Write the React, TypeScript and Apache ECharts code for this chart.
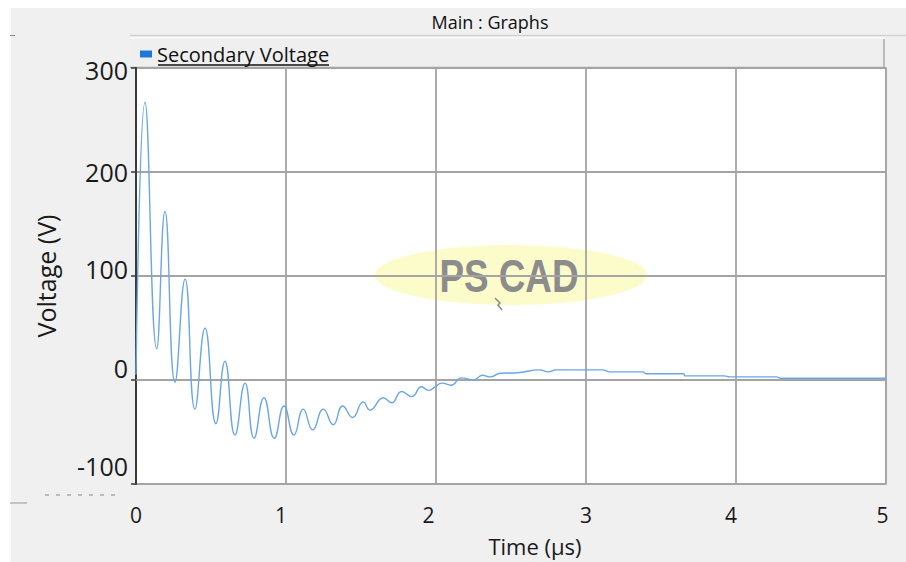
import React, { useEffect, useRef } from "react";
import * as echarts from "echarts";

// ---- data ----
const TIME_US = [
  0, 0.06, 0.138, 0.193, 0.26, 0.327, 0.393, 0.46, 0.533, 0.593, 0.66, 0.727, 0.787,
  0.853, 0.922, 0.987, 1.053, 1.115, 1.178, 1.249, 1.315, 1.378, 1.444, 1.515, 1.56,
  1.649, 1.704, 1.771, 1.838, 1.904, 1.949, 1.99, 2.04, 2.1, 2.17, 2.25, 2.31, 2.36,
  2.43, 2.54, 2.69, 2.75, 2.8, 3.11, 3.16, 3.38, 3.4, 3.65, 3.66, 3.92, 3.96, 4.27,
  4.3, 5.0,
];
const SECONDARY_VOLTAGE = [
  5, 267, 30, 162, -2, 97, -28, 50, -42, 18, -53, -3, -56, -17, -56, -25, -53, -28,
  -48, -28, -43, -25, -36, -21, -29, -17, -22, -11, -16, -6.5, -10, -7, -3, -5, 2, 0,
  4.5, 3, 6.5, 7, 9.7, 7.8, 9.7, 9.7, 7.8, 7.8, 6, 6, 4, 4, 3, 3, 1.7, 1.7,
];
const X_TICKS = [0, 1, 2, 3, 4, 5];
const Y_TICKS = [-100, 0, 100, 200, 300];
const SERIES_NAME = "Secondary Voltage";
const X_TITLE = "Time (µs)";
const Y_TITLE = "Voltage (V)";
const PANEL_TITLE = "Main : Graphs";
const WATERMARK = "PS CAD";

// ---- styles (label nudges in px, as in the reference screenshot) ----
const Y_LABEL_SHIFT = [-18.5, -12.5, -7.5, 0, 1.5];
const X_LABEL_SHIFT = [0, -5, -7.5, 0, -5, -3.5];
const FONT = "'Open Sans', 'Noto Sans', sans-serif";

export default function App() {
  const ref = useRef<HTMLDivElement>(null);

  useEffect(() => {
    if (!ref.current) return;
    const chart = echarts.init(ref.current, undefined, { renderer: "svg" });

    const yRich: Record<string, any> = {};
    Y_TICKS.forEach((_, i) => {
      const s = Y_LABEL_SHIFT[i];
      yRich["y" + i] = {
        fontSize: 25,
        fontFamily: FONT,
        color: "#1a1a1a",
        padding: s < 0 ? [0, 0, -2 * s, 0] : [2 * s, 0, 0, 0],
      };
    });
    const xRich: Record<string, any> = {};
    X_TICKS.forEach((_, i) => {
      const s = X_LABEL_SHIFT[i];
      xRich["x" + i] = {
        fontSize: 21,
        fontFamily: FONT,
        color: "#1a1a1a",
        padding: s < 0 ? [0, -2 * s, 0, 0] : [0, 0, 0, 2 * s],
      };
    });

    chart.setOption({
      animation: false,
      backgroundColor: "#f0f0f0",
      textStyle: { fontFamily: FONT },
      legend: {
        show: true,
        left: 140,
        top: 44,
        padding: 0,
        icon: "rect",
        itemWidth: 12,
        itemHeight: 7,
        itemGap: 10,
        textStyle: { fontSize: 20, color: "#111", fontFamily: FONT },
        data: [SERIES_NAME],
      },
      grid: {
        left: 136,
        right: 20,
        top: 68,
        bottom: 74,
        show: true,
        backgroundColor: "#ffffff",
        borderColor: "#a4a4a4",
        borderWidth: 1.5,
      },
      xAxis: {
        type: "value",
        min: 0,
        max: 5,
        interval: 1,
        name: X_TITLE,
        nameLocation: "middle",
        nameGap: 51,
        nameTextStyle: { fontSize: 22, color: "#1a1a1a", fontFamily: FONT, padding: [0, 0, 0, 48] },
        axisLine: { show: true, lineStyle: { color: "#a4a4a4", width: 1.5 } },
        axisTick: { show: false },
        splitLine: { show: true, lineStyle: { color: "#a4a4a4", width: 1.8 } },
        axisLabel: {
          margin: 20,
          formatter: (v: number) => {
            const i = X_TICKS.indexOf(v);
            return `{x${i}|${v}}`;
          },
          rich: xRich,
        },
      },
      yAxis: {
        type: "value",
        min: -100,
        max: 300,
        interval: 100,
        name: Y_TITLE,
        nameLocation: "middle",
        nameRotate: 90,
        nameGap: 66,
        nameTextStyle: { fontSize: 25, color: "#1a1a1a", fontFamily: FONT, padding: [0, 0, 12, 0] },
        axisLine: { show: true, onZero: false, lineStyle: { color: "#3a3a3a", width: 2 } },
        axisTick: { show: true, length: 5, lineStyle: { color: "#3a3a3a", width: 1.5 } },
        splitLine: { show: true, lineStyle: { color: "#a4a4a4", width: 1.8 } },
        axisLabel: {
          margin: 8,
          formatter: (v: number) => {
            const i = Y_TICKS.indexOf(v);
            return `{y${i}|${v}}`;
          },
          rich: yRich,
        },
      },
      graphic: [
        // white strips of the window edge
        { type: "rect", shape: { x: 0, y: 0, width: 906, height: 8 }, style: { fill: "#ffffff" }, silent: true },
        { type: "rect", shape: { x: 0, y: 0, width: 11, height: 562 }, style: { fill: "#ffffff" }, silent: true },
        // header
        { type: "line", shape: { x1: 130, y1: 35.5, x2: 906, y2: 35.5 }, style: { stroke: "#d2d2d2", lineWidth: 1.5 }, silent: true },
        { type: "line", shape: { x1: 10, y1: 35.5, x2: 15, y2: 35.5 }, style: { stroke: "#8a8a8a", lineWidth: 1 }, silent: true },
        {
          type: "text",
          x: 490,
          y: 22,
          style: { text: PANEL_TITLE, fontSize: 18, fontFamily: FONT, fill: "#111", align: "center", verticalAlign: "middle" },
          silent: true,
        },
        // legend bar
        { type: "rect", shape: { x: 130, y: 38, width: 754, height: 30 }, style: { fill: "#efefef" }, z: -1, silent: true },
        { type: "line", shape: { x1: 130, y1: 38, x2: 884, y2: 38 }, style: { stroke: "#fafafa", lineWidth: 1.5 }, silent: true },
        { type: "line", shape: { x1: 130, y1: 67.5, x2: 884, y2: 67.5 }, style: { stroke: "#a8a8a8", lineWidth: 1.5 }, silent: true },
        { type: "line", shape: { x1: 884, y1: 39, x2: 884, y2: 68 }, style: { stroke: "#a8a8a8", lineWidth: 1.5 }, silent: true },
        // legend underline
        { type: "line", shape: { x1: 158, y1: 65, x2: 329, y2: 65 }, style: { stroke: "#111", lineWidth: 1.5 }, silent: true },
        // bottom-left remnants
        { type: "line", shape: { x1: 45, y1: 495, x2: 116, y2: 495 }, style: { stroke: "#a8a8a8", lineWidth: 1.5, lineDash: [4, 7] }, silent: true },
        { type: "line", shape: { x1: 10, y1: 503, x2: 27, y2: 503 }, style: { stroke: "#b4b4b4", lineWidth: 1.5 }, silent: true },
        // watermark
        {
          type: "ellipse",
          shape: { cx: 511, cy: 275, rx: 136, ry: 30 },
          style: { fill: "rgba(250, 250, 160, 0.55)" },
          silent: true,
        },
        {
          type: "text",
          x: 509,
          y: 276,
          scaleX: 0.8,
          style: {
            text: WATERMARK,
            fontSize: 46,
            fontWeight: "bold",
            fontFamily: "'Liberation Sans', Arial, sans-serif",
            fill: "#8c8c8c",
            align: "center",
            verticalAlign: "middle",
          },
          silent: true,
        },
        {
          type: "polyline",
          shape: { points: [[495, 298], [500, 303], [498, 305], [502, 310]] },
          style: { stroke: "#8a8a8a", lineWidth: 1.5, fill: "none" },
          silent: true,
        },
      ],
      series: [
        {
          name: SERIES_NAME,
          type: "line",
          data: TIME_US.map((t, i) => [t, SECONDARY_VOLTAGE[i]]),
          showSymbol: false,
          smooth: 0.5,
          color: "#1f78d8",
          lineStyle: { color: "#6aa6e8", width: 1.4 },
          z: 3,
        },
      ],
    });

    return () => chart.dispose();
  }, []);

  return (
    <div
      ref={ref}
      style={{ position: "fixed", left: 0, top: 0, width: 906, height: 562 }}
    />
  );
}
